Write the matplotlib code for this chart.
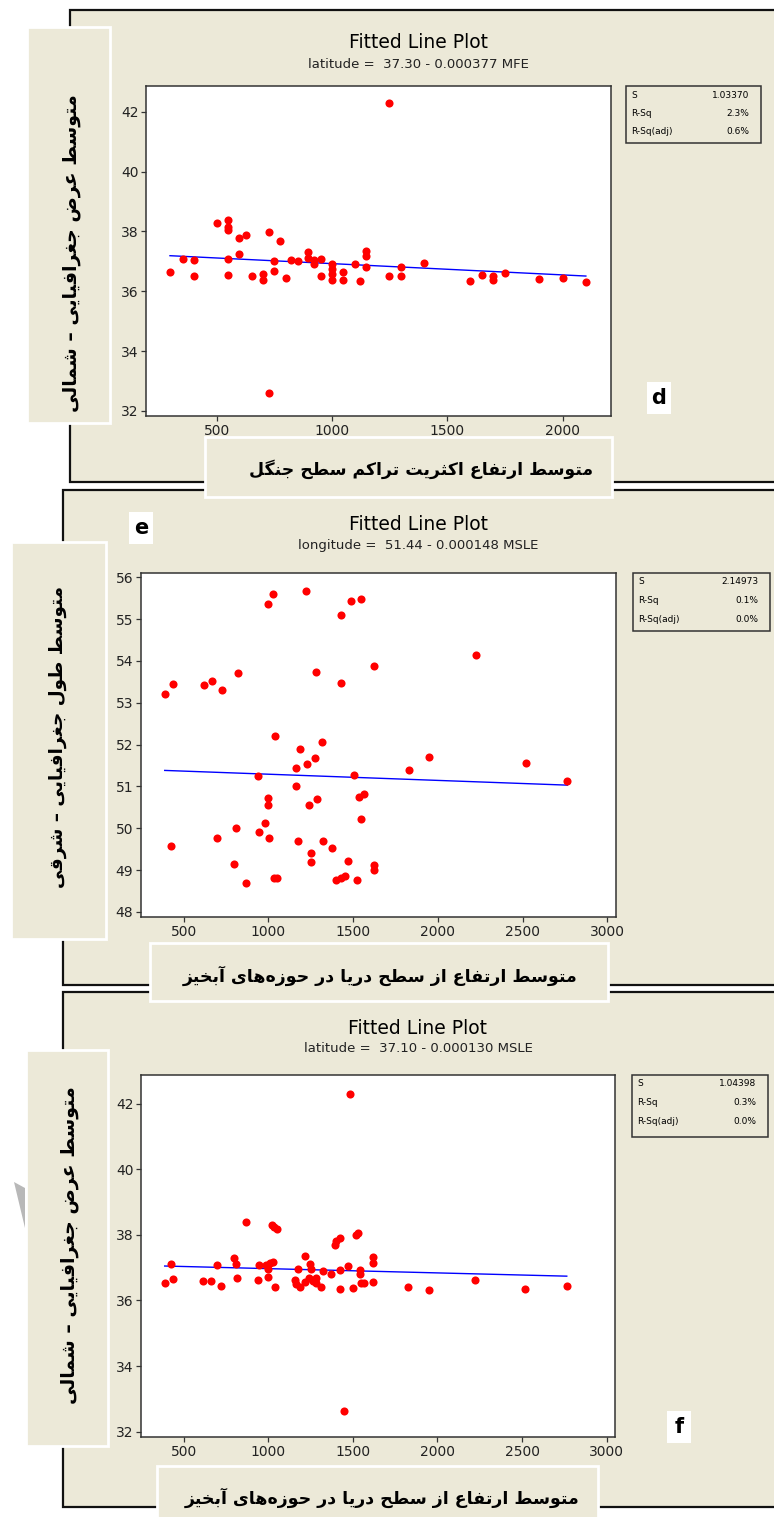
import numpy as np
import matplotlib.pyplot as plt
from matplotlib.patches import Rectangle, Polygon

# ---- data ----
d_mfe = [297, 352, 400, 400, 501, 549, 549, 549, 549, 549, 597, 626, 597, 654, 700,
         700, 728, 749, 749, 775, 800, 728, 822, 851, 897, 897, 922, 922, 952, 952,
         1000, 1000, 1000, 1000, 1046, 1046, 1101, 1122, 1149, 1149, 1149, 1249, 1249,
         1300, 1300, 1400, 1599, 1652, 1700, 1700, 1749, 1897, 2000, 2101]
d_lat = [36.64, 37.09, 37.06, 36.51, 38.29, 38.37, 38.16, 38.04, 37.09, 36.55, 37.79,
         37.88, 37.26, 36.51, 36.57, 36.39, 37.99, 37.00, 36.68, 37.67, 36.43, 32.60,
         37.04, 37.00, 37.30, 37.12, 37.03, 36.92, 37.09, 36.51, 36.91, 36.73, 36.57,
         36.38, 36.64, 36.39, 36.91, 36.35, 37.36, 37.17, 36.80, 42.29, 36.51, 36.80,
         36.51, 36.93, 36.35, 36.55, 36.51, 36.38, 36.61, 36.40, 36.43, 36.31]

e_msle = [388, 439, 425, 618, 665, 724, 699, 818, 811, 797, 870, 938, 946, 982, 997,
          1027, 999, 999, 1005, 1040, 1031, 1050, 1221, 1160, 1160, 1188, 1176, 1227,
          1241, 1249, 1249, 1272, 1278, 1288, 1316, 1323, 1375, 1396, 1426, 1426, 1428,
          1451, 1471, 1487, 1502, 1524, 1536, 1563, 1548, 1548, 1620, 1620, 1620, 1829,
          1949, 2222, 2517, 2764]
e_lon = [53.20, 53.45, 49.57, 53.42, 53.51, 53.30, 49.76, 53.70, 50.01, 49.14, 48.70,
         51.25, 49.92, 50.13, 55.35, 55.59, 50.73, 50.55, 49.76, 52.21, 48.80, 48.80,
         55.68, 51.43, 51.02, 51.89, 49.69, 51.53, 50.56, 49.42, 49.20, 51.68, 53.73,
         50.69, 52.05, 49.69, 49.54, 48.76, 55.09, 53.47, 48.80, 48.87, 49.23, 55.43,
         51.27, 48.76, 50.75, 50.82, 55.49, 50.23, 53.88, 49.13, 49.01, 51.40, 51.71,
         54.13, 51.56, 51.12]

f_msle = [388, 423, 439, 616, 663, 699, 722, 795, 811, 817, 868, 937, 943, 986, 996,
          996, 1008, 1028, 1022, 1035, 1049, 1039, 1157, 1161, 1173, 1189, 1218, 1218,
          1240, 1246, 1252, 1262, 1281, 1283, 1313, 1321, 1372, 1392, 1398, 1425, 1425,
          1425, 1449, 1472, 1484, 1500, 1520, 1531, 1543, 1545, 1547, 1563, 1618, 1618,
          1618, 1827, 1947, 2220, 2516, 2764]
f_lat = [36.53, 37.11, 36.65, 36.58, 36.58, 37.07, 36.44, 37.29, 37.11, 36.69, 38.38,
         36.61, 37.08, 37.07, 36.95, 36.73, 37.15, 37.18, 38.30, 38.24, 38.17, 36.40,
         36.61, 36.51, 36.97, 36.40, 37.36, 36.55, 36.67, 37.10, 36.95, 36.60, 36.67,
         36.53, 36.40, 36.89, 36.82, 37.70, 37.82, 37.89, 36.92, 36.35, 32.62, 37.04,
         42.28, 36.39, 38.00, 38.05, 36.94, 36.81, 36.52, 36.53, 37.32, 37.14, 36.57,
         36.40, 36.32, 36.61, 36.35, 36.44]

# intercept, slope of each fitted line
d_fit = (37.30, -0.000377)
e_fit = (51.44, -0.000148)
f_fit = (37.10, -0.000130)

d_sub = 'latitude =  37.30 - 0.000377 MFE'
e_sub = 'longitude =  51.44 - 0.000148 MSLE'
f_sub = 'latitude =  37.10 - 0.000130 MSLE'

stat_names = ['S', 'R-Sq', 'R-Sq(adj)']
d_stats = ['1.03370', '2.3%', '0.6%']
e_stats = ['2.14973', '0.1%', '0.0%']
f_stats = ['1.04398', '0.3%', '0.0%']

lat_ticks = [32, 34, 36, 38, 40, 42]
lon_ticks = [48, 49, 50, 51, 52, 53, 54, 55, 56]
mfe_ticks = [500, 1000, 1500, 2000]
msle_ticks = [500, 1000, 1500, 2000, 2500, 3000]

ylab_lat = 'متوسط عرض جغرافیایی – شمالی'
ylab_lon = 'متوسط طول جغرافیایی – شرقی'
xlab_mfe = 'متوسط ارتفاع اکثریت تراکم سطح جنگل'
xlab_msle = 'متوسط ارتفاع از سطح دریا در حوزه\u200cهای آبخیز'

# ---- tiny Arabic/Persian shaper (matplotlib does no shaping / bidi) ----
DUAL = {
    'ب': 'ﺏﺐﺑﺒ', 'ت': 'ﺕﺖﺗﺘ', 'ث': 'ﺙﺚﺛﺜ', 'ج': 'ﺝﺞﺟﺠ', 'ح': 'ﺡﺢﺣﺤ',
    'خ': 'ﺥﺦﺧﺨ', 'س': 'ﺱﺲﺳﺴ', 'ش': 'ﺵﺶﺷﺸ', 'ض': 'ﺽﺾﺿﻀ', 'ط': 'ﻁﻂﻃﻄ',
    'ع': 'ﻉﻊﻋﻌ', 'غ': 'ﻍﻎﻏﻐ', 'ف': 'ﻑﻒﻓﻔ', 'ق': 'ﻕﻖﻗﻘ', 'ل': 'ﻝﻞﻟﻠ',
    'م': 'ﻡﻢﻣﻤ', 'ن': 'ﻥﻦﻧﻨ', 'ه': 'ﻩﻪﻫﻬ', 'ی': 'ﯼﯽﯾﯿ', 'ک': 'ﮎﮏﮐﮑ',
    'گ': 'ﮒﮓﮔﮕ',
}
RIGHT = {'ا': 'ﺍﺎ', 'آ': 'ﺁﺂ', 'د': 'ﺩﺪ', 'ر': 'ﺭﺮ', 'ز': 'ﺯﺰ', 'و': 'ﻭﻮ'}


def shape(text):
    out = []
    for i, c in enumerate(text):
        if c == '\u200c':
            continue
        if c not in DUAL and c not in RIGHT:
            out.append(c)
            continue
        prev = text[i - 1] if i > 0 else ''
        nxt = text[i + 1] if i < len(text) - 1 else ''
        to_prev = prev in DUAL
        to_next = c in DUAL and (nxt in DUAL or nxt in RIGHT)
        if c in RIGHT:
            out.append(RIGHT[c][1 if to_prev else 0])
        else:
            k = {(False, False): 0, (True, False): 1, (False, True): 2, (True, True): 3}
            out.append(DUAL[c][k[(to_prev, to_next)]])
    return ''.join(reversed(out))


W, H = 774, 1517
BEIGE = '#ece9d8'
plt.rcParams['font.family'] = ['DejaVu Sans']
fig = plt.figure(figsize=(W / 100, H / 100), dpi=100)
fig.patch.set_facecolor('white')


def fx(x):
    return x / W


def fy(y):
    return 1 - y / H


def box(x0, y0, x1, y1, **kw):
    fig.patches.append(Rectangle((fx(x0), fy(y1)), (x1 - x0) / W, (y1 - y0) / H,
                                 transform=fig.transFigure, **kw))


def ptext(x, y, s, **kw):
    kw.setdefault('zorder', 8)
    fig.text(fx(x), fy(y), s, **kw)


def panel(frame, axbox, x, y, fit, xlim, ylim, xticks, yticks, sub, title_y,
          statbox, stats, letter, ylab_box, ylab, ylab_c, xlab_box, xlab, xlab_c):
    # outer beige frame
    box(*frame, facecolor=BEIGE, edgecolor='#111111', lw=1.6, zorder=-3)
    # plot area
    l, t, r, b = axbox
    ax = fig.add_axes([fx(l), fy(b), (r - l) / W, (b - t) / H])
    ax.set_facecolor('white')
    ax.scatter(x, y, s=34, color='#ff0000', linewidths=0, zorder=3)
    xs = np.array([min(x), max(x)])
    ax.plot(xs, fit[0] + fit[1] * xs, color='#0000ff', lw=1, zorder=2)
    ax.set_xlim(xlim)
    ax.set_ylim(ylim)
    ax.set_xticks(xticks)
    ax.set_yticks(yticks)
    ax.tick_params(direction='out', length=3.5, width=0.9, color='#333333',
                   labelsize=10, labelcolor='#222222', pad=2)
    for sp in ax.spines.values():
        sp.set_color('#333333')
        sp.set_linewidth(1.1)
    # titles
    cx = (l + r) / 2 + 40
    ptext(cx, title_y, 'Fitted Line Plot', ha='center', va='center', fontsize=13.5)
    ptext(cx, title_y + 21, sub, ha='center', va='center', fontsize=9.5, color='#222222')
    # stats box
    sx0, sy0, sx1, sy1 = statbox
    box(sx0, sy0, sx1, sy1, facecolor=BEIGE, edgecolor='#333333', lw=1.1, zorder=1)
    for k, (nm, val) in enumerate(zip(stat_names, stats)):
        yy = sy0 + 9 + k * 18.5
        ptext(sx0 + 5, yy, nm, ha='left', va='center', fontsize=6.5)
        ptext(sx1 - 12, yy, val, ha='right', va='center', fontsize=6.5)
    # panel letter
    lx, ly = letter[1], letter[2]
    box(lx - 12, ly - 16, lx + 12, ly + 16, facecolor='white', edgecolor='none', zorder=6)
    ptext(lx, ly, letter[0], ha='center', va='center', fontsize=15, fontweight='bold')
    # y label box
    box(*ylab_box, facecolor=BEIGE, edgecolor='white', lw=2, zorder=5)
    ptext(ylab_c[0], ylab_c[1], shape(ylab), rotation=90, ha='center', va='center',
          fontsize=ylab_c[2], fontweight='bold')
    # x label box
    box(*xlab_box, facecolor=BEIGE, edgecolor='white', lw=2, zorder=5)
    ptext(xlab_c[0], xlab_c[1], shape(xlab), ha='center', va='center',
          fontsize=xlab_c[2], fontweight='bold')
    return ax


panel((70, 10, 790, 482), (146, 86, 611, 416), d_mfe, d_lat, d_fit,
      (193, 2210), (31.83, 42.86), mfe_ticks, lat_ticks, d_sub, 43,
      (626, 86, 761, 143), d_stats, ('d', 659, 398),
      (27, 27, 110, 423), ylab_lat, (72, 253, 13.6),
      (205, 437, 612, 497), xlab_mfe, (421, 469, 12.4))

panel((63, 490, 790, 985), (141, 573, 616, 917), e_msle, e_lon, e_fit,
      (248, 3051), (47.88, 56.1), msle_ticks, lon_ticks, e_sub, 525,
      (633, 573, 770, 631), e_stats, ('e', 141, 528),
      (11, 542, 106, 939), ylab_lon, (58, 737, 13.2),
      (150, 943, 608, 1001), xlab_msle, (380, 976, 12.5))

panel((63, 992, 790, 1507), (141, 1075, 615, 1437), f_msle, f_lat, f_fit,
      (248, 3049), (31.84, 42.87), msle_ticks, lat_ticks, f_sub, 1028,
      (632, 1075, 768, 1137), f_stats, ('f', 679, 1427),
      (26, 1050, 108, 1446), ylab_lat, (70, 1245, 13.6),
      (157, 1466, 598, 1530), xlab_msle, (382, 1498, 12.5))

# small grey scan artefact at the left edge
fig.patches.append(Polygon([(fx(14), fy(1182)), (fx(25), fy(1188)), (fx(25), fy(1228))],
                           closed=True, transform=fig.transFigure,
                           facecolor='#b8b8b8', edgecolor='none', zorder=-2))

fig.savefig('out.png', dpi=100, facecolor='white')
